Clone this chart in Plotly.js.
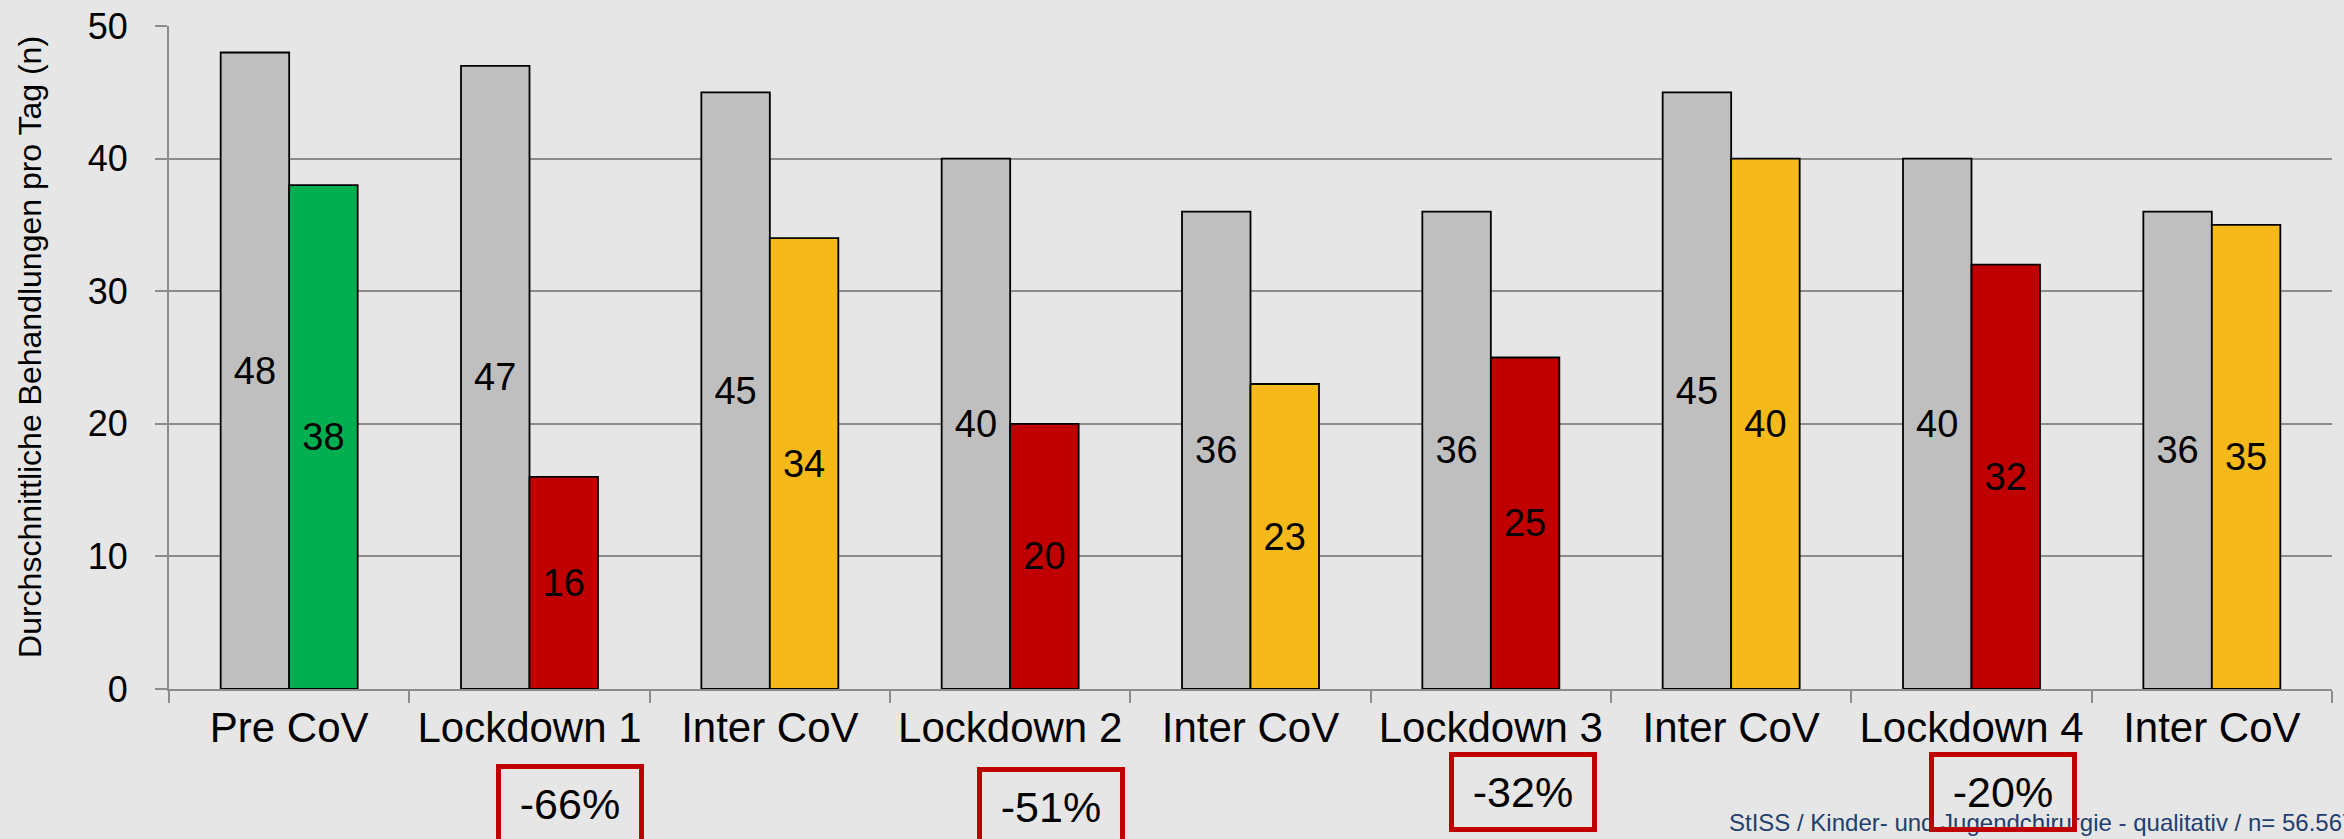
<!DOCTYPE html>
<html>
<head>
<meta charset="utf-8">
<script src="https://cdn.plot.ly/plotly-3.0.1.min.js"></script>
<style>html,body{margin:0;padding:0;background:#e6e6e6;}#chart{width:2344px;height:839px;}</style>
</head>
<body>
<div id="chart"></div>
<script>
const categories = ['Pre CoV','Lockdown 1','Inter CoV','Lockdown 2','Inter CoV','Lockdown 3','Inter CoV','Lockdown 4','Inter CoV'];
const referenceValues = [48, 47, 45, 40, 36, 36, 45, 40, 36];
const periodValues = [38, 16, 34, 20, 23, 25, 40, 32, 35];
const periodColors = ['#00b050','#c00000','#f5b91a','#c00000','#f5b91a','#c00000','#f5b91a','#c00000','#f5b91a'];
const changeLabels = ['-66%', '-51%', '-32%', '-20%'];
const yTitle = 'Durchschnittliche Behandlungen pro Tag (n)';
const footerText = 'StISS / Kinder- und Jugendchirurgie - qualitativ / n= 56.567';

const xIdx = categories.map((_, i) => i);
const FONT = 'Liberation Sans, Arial, sans-serif';

const traces = [
  {
    type: 'bar', x: xIdx, y: referenceValues,
    marker: {color: '#bfbfbf', line: {color: '#000000', width: 1.8}},
    text: referenceValues.map(String), textposition: 'inside', insidetextanchor: 'middle',
    textfont: {family: FONT, size: 38, color: '#000000'}, constraintext: 'none',
    hoverinfo: 'skip', showlegend: false
  },
  {
    type: 'bar', x: xIdx, y: periodValues,
    marker: {color: periodColors, line: {color: '#000000', width: 1.8}},
    text: periodValues.map(String), textposition: 'inside', insidetextanchor: 'middle',
    textfont: {family: FONT, size: 38, color: '#000000'}, constraintext: 'none',
    hoverinfo: 'skip', showlegend: false
  }
];

// box placements (paper coords) for change annotations
const boxX = [0.1854, 0.4078, 0.6260, 0.8481];
const boxY = [-0.1742, -0.1787, -0.1561, -0.1561];

const annotations = [
  {
    xref: 'paper', yref: 'paper', x: -0.0643, y: 0.5158, xanchor: 'center', yanchor: 'middle',
    text: yTitle, textangle: -90, showarrow: false,
    font: {family: FONT, size: 32, color: '#000000'}
  },
  {
    xref: 'paper', yref: 'paper', x: 0.7204, y: -0.2021, xanchor: 'left', yanchor: 'middle',
    text: footerText, showarrow: false,
    font: {family: FONT, size: 24, color: '#1f3f6e'}
  }
];
changeLabels.forEach((t, i) => {
  annotations.push({
    xref: 'paper', yref: 'paper', x: boxX[i], y: boxY[i], xanchor: 'center', yanchor: 'middle',
    text: t, showarrow: false, width: 138, height: 70, borderpad: 0,
    bordercolor: '#c00000', borderwidth: 5, bgcolor: 'rgba(0,0,0,0)',
    font: {family: FONT, size: 43, color: '#000000'}
  });
});

const layout = {
  width: 2344, height: 839,
  paper_bgcolor: '#e6e6e6', plot_bgcolor: '#e6e6e6',
  margin: {l: 169, r: 12, t: 26, b: 150, pad: 0},
  barmode: 'group', bargap: 0.43, bargroupgap: 0,
  font: {family: FONT, color: '#000000'},
  xaxis: {
    range: [-0.5, 8.5], tickmode: 'array', tickvals: xIdx, ticktext: categories,
    ticks: '', showgrid: false, zeroline: false,
    showline: true, linecolor: '#8c8c8c', linewidth: 2,
    tickfont: {family: FONT, size: 42, color: '#000000'},
    ticklabelstandoff: 1,
    minor: {ticks: 'outside', tick0: -0.5, dtick: 1, ticklen: 12, tickwidth: 2, tickcolor: '#8c8c8c', showgrid: false}
  },
  yaxis: {
    range: [0, 50], tickvals: [0, 10, 20, 30, 40, 50],
    ticks: 'outside', ticklen: 12, tickwidth: 2, tickcolor: '#8c8c8c',
    showgrid: true, gridcolor: '#8c8c8c', gridwidth: 2,
    showline: true, linecolor: '#8c8c8c', linewidth: 2, zeroline: false,
    tickfont: {family: FONT, size: 36, color: '#000000'},
    ticklabelstandoff: 20
  },
  annotations: annotations
};

Plotly.newPlot('chart', traces, layout, {displayModeBar: false, staticPlot: true});
</script>
</body>
</html>
